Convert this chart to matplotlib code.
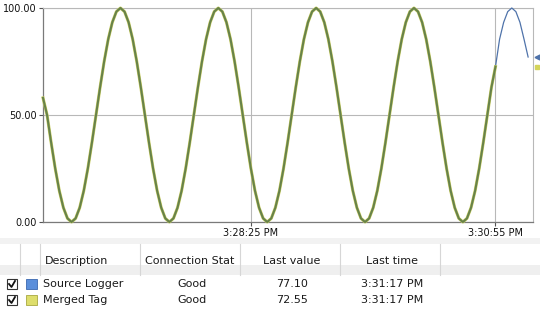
import matplotlib
matplotlib.use('Agg')
from matplotlib import pyplot as plt
from matplotlib.patches import Rectangle
from matplotlib.lines import Line2D
import matplotlib.dates as mdates
import matplotlib.transforms as mtransforms
import pandas as pd

plt.rcParams['font.family'] = ['DejaVu Sans']

merged_values = [
    58.0, 50.0, 37.1, 25.0, 14.6, 6.7, 1.7, 0.0, 1.7, 6.7, 14.6, 25.0, 37.1, 50.0, 62.9, 75.0, 85.4, 93.3, 98.3,
    100.0, 98.3, 93.3, 85.4, 75.0, 62.9, 50.0, 37.1, 25.0, 14.6, 6.7, 1.7, 0.0, 1.7, 6.7, 14.6, 25.0, 37.1, 50.0, 62.9, 75.0, 85.4, 93.3, 98.3,
    100.0, 98.3, 93.3, 85.4, 75.0, 62.9, 50.0, 37.1, 25.0, 14.6, 6.7, 1.7, 0.0, 1.7, 6.7, 14.6, 25.0, 37.1, 50.0, 62.9, 75.0, 85.4, 93.3, 98.3,
    100.0, 98.3, 93.3, 85.4, 75.0, 62.9, 50.0, 37.1, 25.0, 14.6, 6.7, 1.7, 0.0, 1.7, 6.7, 14.6, 25.0, 37.1, 50.0, 62.9, 75.0, 85.4, 93.3, 98.3,
    100.0, 98.3, 93.3, 85.4, 75.0, 62.9, 50.0, 37.1, 25.0, 14.6, 6.7, 1.7, 0.0, 1.7, 6.7, 14.6, 25.0, 37.1, 50.0, 62.9, 72.6,
]
source_tail = [85.4, 93.3, 98.3, 100.0, 98.3, 93.3, 85.4, 77.1]
source_values = merged_values + source_tail

start_time = '2024-01-01 15:26:17.5'
merged_times = pd.date_range(start_time, periods=len(merged_values), freq='2500ms')
source_times = pd.date_range(start_time, periods=len(source_values), freq='2500ms')

x_ticks = ['2024-01-01 15:28:25', '2024-01-01 15:30:55']
x_tick_labels = ['3:28:25 PM', '3:30:55 PM']
y_ticks = [0, 50, 100]
y_tick_labels = ['0.00', '50.00', '100.00']

columns = ['Description', 'Connection Stat', 'Last value', 'Last time']
names = ['Source Logger', 'Merged Tag']
status = ['Good', 'Good']
last_values = ['77.10', '72.55']
last_times = ['3:31:17 PM', '3:31:17 PM']
last_numbers = [77.10, 72.55]
swatch_colors = ['#5b8fdb', '#dede6c']
swatch_edges = ['#3b68b0', '#a8a840']

W, H = 540, 311


def fx(x):
    return x / W


def fy(y):
    return 1 - y / H


fig = plt.figure(figsize=(5.4, 3.11), dpi=100)
ax = fig.add_axes([fx(43), fy(222), fx(533) - fx(43), fy(8) - fy(222)])

ax.plot(source_times, source_values, color='#4f73aa', lw=0.9, clip_on=False, zorder=3)
ax.plot(merged_times, merged_values, color='#c9cd62', lw=2.2, clip_on=False, zorder=4,
        solid_joinstyle='round')
ax.plot(merged_times, merged_values, color='#67824a', lw=1.5, clip_on=False, zorder=5,
        solid_joinstyle='round')

ax.set_xlim(pd.Timestamp('2024-01-01 15:26:17.5'), pd.Timestamp('2024-01-01 15:31:18'))
ax.set_ylim(0, 100)
ax.set_xticks([mdates.date2num(pd.Timestamp(t)) for t in x_ticks])
ax.set_xticklabels(x_tick_labels)
ax.set_yticks(y_ticks)
ax.set_yticklabels(y_tick_labels)
ax.tick_params(axis='both', labelsize=7, length=3, width=0.8, color='#555555', pad=1.5, labelcolor='#111111')
ax.grid(True, color='#b8b8b8', lw=0.8)
ax.set_axisbelow(True)
for side in ['left', 'bottom']:
    ax.spines[side].set_color('#7a7a7a')
    ax.spines[side].set_linewidth(0.9)
for side in ['top', 'right']:
    ax.spines[side].set_color('#b8b8b8')
    ax.spines[side].set_linewidth(0.8)

# last value markers on the right edge
trans = mtransforms.blended_transform_factory(ax.transAxes, ax.transData)
ax.plot([1.009], [last_numbers[0]], marker='<', ms=3.5, color='#4f73aa', transform=trans, clip_on=False)
ax.plot([1.009], [last_numbers[1]], marker='s', ms=3.5, color='#d4d45a', transform=trans, clip_on=False)

# ---- table below the chart ----
fig.patches.append(Rectangle((0, fy(244)), 1, fy(238) - fy(244), transform=fig.transFigure,
                             facecolor='#f2f2f2', edgecolor='none'))
fig.patches.append(Rectangle((0, fy(275)), 1, fy(265) - fy(275), transform=fig.transFigure,
                             facecolor='#efefef', edgecolor='none'))
for xs in [20, 40, 140, 240, 340, 440]:
    fig.lines.append(Line2D([fx(xs), fx(xs)], [fy(244), fy(275)], transform=fig.transFigure,
                            color='#d6d6d6', lw=0.8))

head_x = [45, 145, 292, 392]
head_ha = ['left', 'left', 'center', 'center']
for c, hx, ha in zip(columns, head_x, head_ha):
    fig.text(fx(hx), fy(261), c, ha=ha, va='center', fontsize=8, color='#1a1a1a')

row_y = [284, 300]
for i in range(len(names)):
    y = row_y[i]
    # checkbox
    fig.patches.append(Rectangle((fx(7), fy(y + 5)), fx(10), fy(y - 5) - fy(y + 5), transform=fig.transFigure,
                                 facecolor='white', edgecolor='#333333', lw=0.8))
    fig.lines.append(Line2D([fx(9), fx(11.5), fx(15)], [fy(y), fy(y + 3), fy(y - 3)], transform=fig.transFigure,
                            color='#111111', lw=1.3))
    # colour swatch
    fig.patches.append(Rectangle((fx(26), fy(y + 5)), fx(11), fy(y - 5) - fy(y + 5), transform=fig.transFigure,
                                 facecolor=swatch_colors[i], edgecolor=swatch_edges[i], lw=0.6))
    fig.text(fx(43), fy(y), names[i], ha='left', va='center', fontsize=8, color='#1a1a1a')
    fig.text(fx(192), fy(y), status[i], ha='center', va='center', fontsize=8, color='#1a1a1a')
    fig.text(fx(292), fy(y), last_values[i], ha='center', va='center', fontsize=8, color='#1a1a1a')
    fig.text(fx(392), fy(y), last_times[i], ha='center', va='center', fontsize=8, color='#1a1a1a')

fig.savefig('out.png', dpi=100)
